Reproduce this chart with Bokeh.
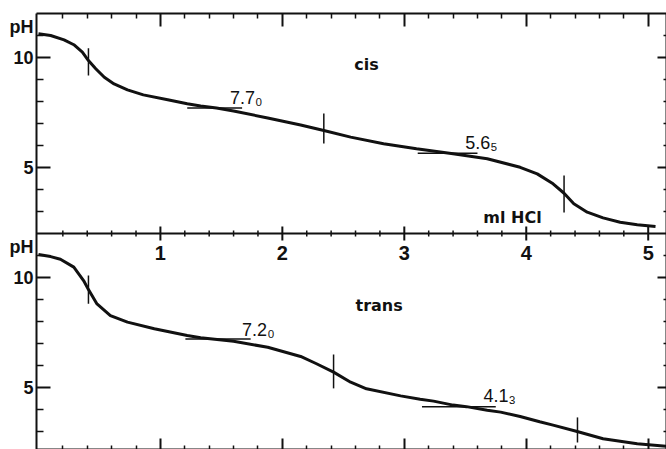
from bokeh.plotting import figure
from bokeh.models import Range1d, LinearAxis, FixedTicker, Span, CustomJSTickFormatter
from bokeh.embed import file_html
from bokeh.resources import INLINE
from bokeh.core.properties import value

# ---------------- data ----------------
# cis isomer titration curve: ml HCl vs pH
cis_ml = [0.00, 0.10, 0.21, 0.29, 0.36, 0.41, 0.47, 0.54, 0.62, 0.73, 0.86, 1.06, 1.22, 1.33,
          1.46, 1.60, 1.88, 2.15, 2.34, 2.56, 2.83, 3.10, 3.40, 3.68, 3.95, 4.09, 4.22, 4.31,
          4.39, 4.50, 4.63, 4.77, 4.91, 5.06]
cis_ph = [11.08, 11.00, 10.80, 10.58, 10.24, 9.86, 9.49, 9.10, 8.80, 8.53, 8.30, 8.08, 7.90, 7.80,
          7.70, 7.57, 7.25, 6.93, 6.68, 6.38, 6.08, 5.85, 5.62, 5.40, 5.01, 4.71, 4.26, 3.83,
          3.35, 2.97, 2.71, 2.51, 2.40, 2.32]

# trans isomer titration curve
trans_ml = [0.00, 0.10, 0.18, 0.29, 0.37, 0.41, 0.48, 0.59, 0.73, 0.95, 1.22, 1.33, 1.60, 1.88,
            2.15, 2.28, 2.42, 2.56, 2.69, 2.97, 3.13, 3.24, 3.40, 3.51, 3.68, 3.79, 3.95, 4.11,
            4.22, 4.41, 4.63, 4.91, 5.15]
trans_ph = [11.05, 10.95, 10.83, 10.47, 9.86, 9.45, 8.80, 8.27, 7.97, 7.67, 7.36, 7.26, 7.10, 6.83,
            6.41, 6.08, 5.70, 5.24, 4.94, 4.62, 4.47, 4.38, 4.20, 4.13, 3.97, 3.88, 3.68, 3.44,
            3.29, 3.01, 2.67, 2.44, 2.33]

# equivalence-point marks: position, pH at centre, half length (pH units)
cis_eq_ml = [0.41, 2.34, 4.31]
cis_eq_ph = [9.80, 6.77, 3.80]
cis_eq_half = [0.62, 0.68, 0.84]
trans_eq_ml = [0.41, 2.42, 4.42]
trans_eq_ph = [9.45, 5.73, 3.07]
trans_eq_half = [0.64, 0.77, 0.57]

# half-neutralisation (pK) lines
cis_pk = [7.70, 5.65]
cis_pk_from = [1.22, 3.11]
cis_pk_to = [1.67, 3.60]
cis_pk_text = ["7.7\u2080", "5.6\u2085"]
trans_pk = [7.20, 4.13]
trans_pk_from = [1.205, 3.145]
trans_pk_to = [1.74, 3.75]
trans_pk_text = ["7.2\u2080", "4.1\u2083"]

x_ticks = [1, 2, 3, 4, 5]
x_tick_labels = ["1", "2", "3", "4", "5"]
y_major = [10, 5]
y_minor = [11, 9, 8, 7, 6, 4, 3]
y_title = "pH"

# ---------------- layout ----------------
OFFSET = 10.0      # lower panel is drawn 10 pH units below the upper one
MID = 2.0          # shared boundary between the panels (pH 2 of cis = pH 12 of trans)
PX = 1 / 22.0      # one pixel in pH units
UP = 6 * PX        # baseline correction for glyph text
TITLE_POS = [11.39, 1.38]   # where the "pH" titles sit on the left side

BLACK = "#111111"
DIGITS = "Liberation Sans"
BOLD = "DejaVu Sans"

p = figure(width=666, height=449, output_backend="svg", toolbar_location=None,
           x_range=Range1d(-0.016, 5.15), y_range=Range1d(12.0 - 436 * PX, 12.0),
           min_border_left=36, min_border_right=0, min_border_top=13, min_border_bottom=0,
           x_axis_location=None, y_axis_location=None)
p.grid.visible = False
p.outline_line_color = None
p.background_fill_color = "white"
p.border_fill_color = "white"

minor_x = [i / 5 for i in range(1, 26) if i % 5 != 0]
y_maj_all = y_major + [v - OFFSET for v in y_major]
y_min_all = y_minor + [v - OFFSET for v in y_minor]
NOLABEL = CustomJSTickFormatter(code="return '';")


def blank(ax):
    ax.major_label_text_font_size = "0px"
    ax.major_label_standoff = 0
    ax.major_tick_out = 0
    ax.minor_tick_out = 0
    ax.axis_line_color = BLACK
    ax.axis_line_width = 2
    ax.major_tick_line_color = BLACK
    ax.minor_tick_line_color = BLACK
    ax.major_tick_line_width = 2
    ax.minor_tick_line_width = 1.5


# left: inner axis carries line and ticks, outer (zero offset) axis carries the labels
left = LinearAxis(ticker=FixedTicker(ticks=y_maj_all, minor_ticks=y_min_all), formatter=NOLABEL)
blank(left)
left.major_tick_in = 14
left.minor_tick_in = 7
p.add_layout(left, "left")

left_lab = LinearAxis(
    ticker=FixedTicker(ticks=y_maj_all + TITLE_POS),
    formatter=CustomJSTickFormatter(
        args=dict(title=y_title),
        code="if (Math.abs(tick - Math.round(tick)) > 0.01) { return title; }"
             " return String(tick > 2 ? tick : tick + 10);"))
left_lab.axis_line_color = None
left_lab.major_tick_line_color = None
left_lab.minor_tick_line_color = None
left_lab.major_tick_in = 0
left_lab.major_tick_out = 0
left_lab.minor_tick_in = 0
left_lab.minor_tick_out = 0
left_lab.major_label_standoff = 3
left_lab.major_label_text_font = DIGITS
left_lab.major_label_text_font_style = "bold"
left_lab.major_label_text_font_size = "18px"
left_lab.major_label_text_color = BLACK
p.add_layout(left_lab, "left")

right = LinearAxis(ticker=FixedTicker(ticks=y_maj_all, minor_ticks=y_min_all), formatter=NOLABEL)
blank(right)
right.major_tick_in = 9
right.minor_tick_in = 3
p.add_layout(right, "right")

top = LinearAxis(ticker=FixedTicker(ticks=x_ticks, minor_ticks=minor_x), formatter=NOLABEL)
blank(top)
top.major_tick_in = 13
top.minor_tick_in = 5
p.add_layout(top, "above")

bottom = LinearAxis(ticker=FixedTicker(ticks=x_ticks, minor_ticks=minor_x), formatter=NOLABEL)
blank(bottom)
bottom.major_tick_in = 11
bottom.minor_tick_in = 4
p.add_layout(bottom, "below")

# shared middle axis (line + crossing ticks + labels)
p.add_layout(Span(location=MID, dimension="width", line_color=BLACK, line_width=2))
p.segment(x0=x_ticks, x1=x_ticks, y0=[MID - 7 * PX] * len(x_ticks), y1=[MID + 7 * PX] * len(x_ticks),
          line_color=BLACK, line_width=2)
p.segment(x0=minor_x, x1=minor_x, y0=[MID - 3 * PX] * len(minor_x), y1=[MID + 3 * PX] * len(minor_x),
          line_color=BLACK, line_width=1.5)
p.text(x=x_ticks, y=[MID - 25 * PX + UP] * len(x_ticks), text=x_tick_labels,
       text_align="center", text_baseline="alphabetic", text_font=value(DIGITS),
       text_font_style="bold", text_font_size="20px", text_color=BLACK)

# curves
p.line(cis_ml, cis_ph, line_color=BLACK, line_width=3)
p.line(trans_ml, [v - OFFSET for v in trans_ph], line_color=BLACK, line_width=3)

# equivalence marks
p.segment(x0=cis_eq_ml, x1=cis_eq_ml,
          y0=[c - h for c, h in zip(cis_eq_ph, cis_eq_half)],
          y1=[c + h for c, h in zip(cis_eq_ph, cis_eq_half)], line_color=BLACK, line_width=1.5)
p.segment(x0=trans_eq_ml, x1=trans_eq_ml,
          y0=[c - h - OFFSET for c, h in zip(trans_eq_ph, trans_eq_half)],
          y1=[c + h - OFFSET for c, h in zip(trans_eq_ph, trans_eq_half)], line_color=BLACK, line_width=1.5)

# pK lines and labels
p.segment(x0=cis_pk_from, x1=cis_pk_to, y0=cis_pk, y1=cis_pk, line_color=BLACK, line_width=1.5)
p.segment(x0=trans_pk_from, x1=trans_pk_to, y0=[v - OFFSET for v in trans_pk],
          y1=[v - OFFSET for v in trans_pk], line_color=BLACK, line_width=1.5)
p.text(x=[1.57, 3.50], y=[7.90 + UP, 5.86 + UP], text=cis_pk_text, text_baseline="alphabetic",
       text_font=value(DIGITS), text_font_size="18px", text_color=BLACK)
p.text(x=[1.67, 3.65], y=[7.36 - OFFSET + UP, 4.32 - OFFSET + UP], text=trans_pk_text,
       text_baseline="alphabetic", text_font=value(DIGITS), text_font_size="18px", text_color=BLACK)

# panel labels
p.text(x=[2.59, 2.60, 3.648], y=[9.42 + UP, 8.45 - OFFSET + UP, 2.45 + UP],
       text=["cis", "trans", "ml HCl"], text_baseline="alphabetic",
       text_font=value(BOLD), text_font_style="bold", text_font_size="16px", text_color=BLACK)

open("out.html", "w").write(file_html(p, INLINE))
